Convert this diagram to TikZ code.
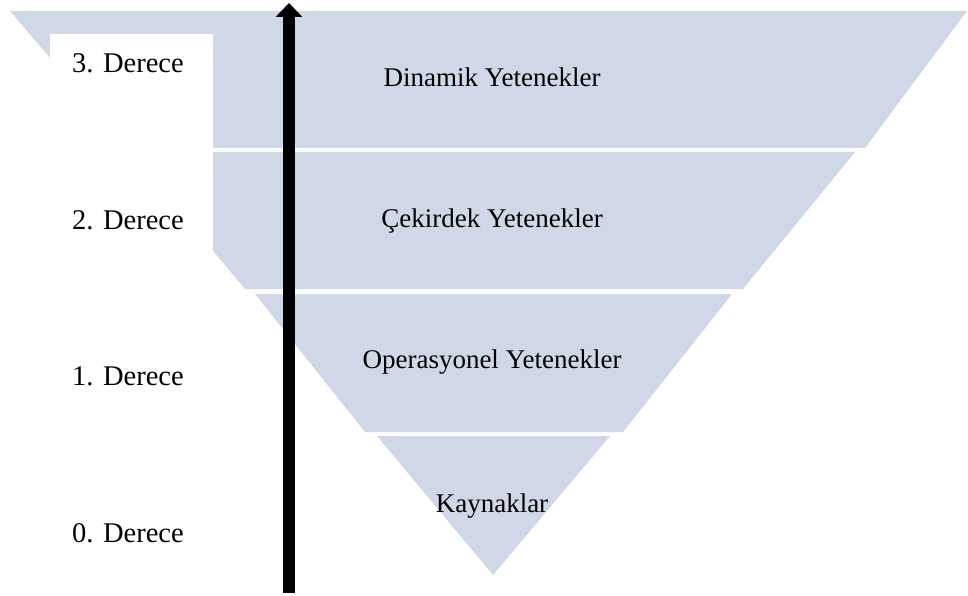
\documentclass[tikz,border=0pt]{standalone}
\usepackage{fontspec}
\setmainfont{Liberation Serif}
\usetikzlibrary{arrows.meta}
\definecolor{bandfill}{RGB}{208,215,230}
\begin{document}
\begin{tikzpicture}[x=1pt,y=-1pt,
  band/.style={fill=bandfill,draw=none},
  inlabel/.style={font=\fontsize{27}{32}\selectfont, anchor=base, inner sep=0pt},
  level/.style={font=\fontsize{28.5}{34}\selectfont, anchor=base, inner sep=0pt},
  axis/.style={line width=11.5pt, -{Triangle[width=26pt,length=14pt]}}]
\useasboundingbox[fill=white] (0,0) rectangle (968,596);
% bands of the inverted pyramid
\path[band] (10,11) -- (967,11) -- (865,148) -- (127,148) -- cycle;
\path[band] (130,152) -- (855,152) -- (743,289) -- (245,289) -- cycle;
\path[band] (255,294) -- (732,294) -- (623,432) -- (365,432) -- cycle;
\path[band] (377,436) -- (610,436) -- (493,575) -- cycle;
% white panel behind the level labels
\fill[white] (50,34) rectangle (213,260);
% texts inside the pyramid
\node[inlabel] (t3) at (492,87) {Dinamik Yetenekler};
\node[inlabel] (t2) at (492,227) {Çekirdek Yetenekler};
\node[inlabel] (t1) at (492,368) {Operasyonel Yetenekler};
\node[inlabel] (t0) at (492,512) {Kaynaklar};
% level labels
\node[level] (d3) at (128,73) {3. Derece};
\node[level] (d2) at (128,229) {2. Derece};
\node[level] (d1) at (128,385) {1. Derece};
\node[level] (d0) at (128,542) {0. Derece};
% vertical arrow
\coordinate (abot) at (289,593);
\coordinate (atop) at (289,3);
\draw[axis] (abot) -- (atop);
\end{tikzpicture}
\end{document}
